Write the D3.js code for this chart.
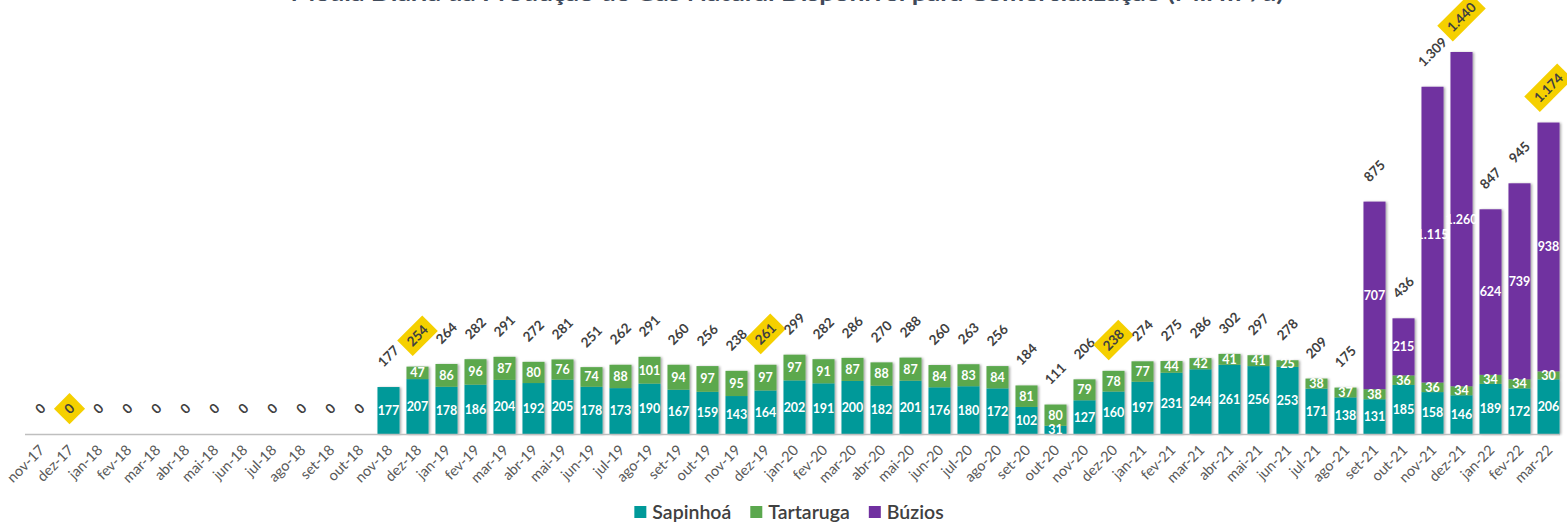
<!DOCTYPE html>
<html>
<head>
<meta charset="utf-8">
<script src="https://cdn.jsdelivr.net/npm/d3@7"></script>
<style>
  body { margin: 0; background: #fff; }
  svg { display: block; font-family: Lato, "Open Sans", sans-serif; }
</style>
</head>
<body>
<div class="chart"></div>
<script>
const months = [
  "nov-17", "dez-17",
  "jan-18", "fev-18", "mar-18", "abr-18", "mai-18", "jun-18", "jul-18", "ago-18", "set-18", "out-18", "nov-18", "dez-18",
  "jan-19", "fev-19", "mar-19", "abr-19", "mai-19", "jun-19", "jul-19", "ago-19", "set-19", "out-19", "nov-19", "dez-19",
  "jan-20", "fev-20", "mar-20", "abr-20", "mai-20", "jun-20", "jul-20", "ago-20", "set-20", "out-20", "nov-20", "dez-20",
  "jan-21", "fev-21", "mar-21", "abr-21", "mai-21", "jun-21", "jul-21", "ago-21", "set-21", "out-21", "nov-21", "dez-21",
  "jan-22", "fev-22", "mar-22"
];
const sapinhoa = [
  0, 0,
  0, 0, 0, 0, 0, 0, 0, 0, 0, 0, 177, 207,
  178, 186, 204, 192, 205, 178, 173, 190, 167, 159, 143, 164,
  202, 191, 200, 182, 201, 176, 180, 172, 102, 31, 127, 160,
  197, 231, 244, 261, 256, 253, 171, 138, 131, 185, 158, 146,
  189, 172, 206
];
const tartaruga = [
  0, 0,
  0, 0, 0, 0, 0, 0, 0, 0, 0, 0, 0, 47,
  86, 96, 87, 80, 76, 74, 88, 101, 94, 97, 95, 97,
  97, 91, 87, 88, 87, 84, 83, 84, 81, 80, 79, 78,
  77, 44, 42, 41, 41, 25, 38, 37, 38, 36, 36, 34,
  34, 34, 30
];
const buzios = [
  0, 0,
  0, 0, 0, 0, 0, 0, 0, 0, 0, 0, 0, 0,
  0, 0, 0, 0, 0, 0, 0, 0, 0, 0, 0, 0,
  0, 0, 0, 0, 0, 0, 0, 0, 0, 0, 0, 0,
  0, 0, 0, 0, 0, 0, 0, 0, 707, 215, 1115, 1260,
  624, 739, 938
];
// totals as printed on the chart (rounded)
const totals = [
  0, 0,
  0, 0, 0, 0, 0, 0, 0, 0, 0, 0, 177, 254,
  264, 282, 291, 272, 281, 251, 262, 291, 260, 256, 238, 261,
  299, 282, 286, 270, 288, 260, 263, 256, 184, 111, 206, 238,
  274, 275, 286, 302, 297, 278, 209, 175, 875, 436, 1309, 1440,
  847, 945, 1174
];
const highlighted = ["dez-17", "dez-18", "dez-19", "dez-20", "dez-21", "mar-22"];
const seriesNames = ["Sapinhoá", "Tartaruga", "Búzios"];
const colors = ["#009999", "#5ba84e", "#7030a0"];
const title = "Média Diária da Produção de Gás Natural Disponível para Comercialização (Mil m³/d)";

const width = 1567, height = 524;
const br = d3.formatLocale({ decimal: ",", thousands: ".", grouping: [3], currency: ["R$", ""] });
const fmt = br.format(",d");

const rows = months.map((m, i) => ({
  month: m,
  "Sapinhoá": sapinhoa[i],
  "Tartaruga": tartaruga[i],
  "Búzios": buzios[i],
  total: totals[i]
}));

const svg = d3.select(".chart").append("svg")
  .attr("width", width)
  .attr("height", height);

const defs = svg.append("defs");
defs.append("filter").attr("id", "shadow")
  .attr("x", "-20%").attr("y", "-5%").attr("width", "150%").attr("height", "110%")
  .append("feDropShadow")
  .attr("dx", 1.5).attr("dy", 0.5).attr("stdDeviation", 1)
  .attr("flood-color", "#000").attr("flood-opacity", 0.35);

// title (mostly above the visible area, as in the picture)
svg.append("text")
  .attr("x", 787).attr("y", 1)
  .attr("text-anchor", "middle")
  .attr("font-size", 20).attr("font-weight", 700)
  .attr("fill", "#3f4a5a")
  .attr("textLength", 993).attr("lengthAdjust", "spacingAndGlyphs")
  .text(title);

const x = d3.scaleBand()
  .domain(months)
  .range([26, 1563])
  .paddingInner(0.24)
  .paddingOuter(0.12);

const y = d3.scaleLinear()
  .domain([0, d3.max(totals)])
  .range([434, 52]);

const stack = d3.stack().keys(seriesNames);
const stacked = stack(rows);

// bars
const bars = svg.append("g").attr("filter", "url(#shadow)");
bars.selectAll("g")
  .data(stacked)
  .join("g")
  .attr("fill", (d, i) => colors[i])
  .selectAll("rect")
  .data(d => d.filter(p => p[1] - p[0] > 0))
  .join("rect")
  .attr("x", d => x(d.data.month))
  .attr("width", x.bandwidth())
  .attr("y", d => y(d[1]))
  .attr("height", d => y(d[0]) - y(d[1]));

// axis line
svg.append("line")
  .attr("x1", 25).attr("x2", 1560)
  .attr("y1", y(0) + 0.5).attr("y2", y(0) + 0.5)
  .attr("stroke", "#bfbfbf").attr("stroke-width", 1.5);

// x labels
svg.append("g").selectAll("text")
  .data(months)
  .join("text")
  .attr("transform", d => `translate(${x(d) + x.bandwidth() / 2 + 5},${y(0) + 17}) rotate(-45)`)
  .attr("text-anchor", "end")
  .attr("font-size", 14.5)
  .attr("fill", "#595959")
  .text(d => d);

// segment labels
stacked.forEach((s, si) => {
  svg.append("g").selectAll("text")
    .data(s.filter(p => p[1] - p[0] > 0))
    .join("text")
    .attr("x", d => x(d.data.month) + x.bandwidth() / 2)
    .attr("y", d => (y(d[0]) + y(d[1])) / 2)
    .attr("dy", "0.35em")
    .attr("text-anchor", "middle")
    .attr("font-size", 12.5)
    .attr("font-weight", 700)
    .attr("fill", "#fff")
    .text(d => fmt(d[1] - d[0]));
});

// total labels, rotated, some with a yellow box
const totalG = svg.append("g").selectAll("g")
  .data(rows)
  .join("g");

totalG.each(function (d) {
  const g = d3.select(this);
  const t = g.append("text")
    .attr("text-anchor", "middle")
    .attr("dy", "0.35em")
    .attr("font-size", 13.5)
    .attr("font-weight", 700)
    .attr("fill", "#404040")
    .text(fmt(d.total));
  const w = t.node().getComputedTextLength();
  const cx = x(d.month) + x.bandwidth() / 2;
  const cy = y(d.total) - 18 - (w + 13) / (2 * Math.SQRT2);
  g.attr("transform", `translate(${cx},${cy}) rotate(-45)`);
  if (highlighted.includes(d.month)) {
    const bw = Math.max(w + 12, 22);
    g.insert("rect", "text")
      .attr("x", -bw / 2).attr("y", -11)
      .attr("width", bw).attr("height", 22)
      .attr("fill", "#f5d000");
  }
});

// legend
const legend = svg.append("g");
let lx = 0;
seriesNames.forEach((name, i) => {
  const item = legend.append("g").attr("transform", `translate(${lx},0)`);
  item.append("rect")
    .attr("x", 0).attr("y", -6)
    .attr("width", 12).attr("height", 12)
    .attr("fill", colors[i]);
  const t = item.append("text")
    .attr("x", 18).attr("dy", "0.35em")
    .attr("font-size", 19.5)
    .attr("font-weight", 600)
    .attr("fill", "#404040")
    .text(name);
  lx += 18 + t.node().getComputedTextLength() + 19;
});
legend.attr("transform", `translate(${789 - (lx - 19) / 2},512)`);
</script>
</body>
</html>
